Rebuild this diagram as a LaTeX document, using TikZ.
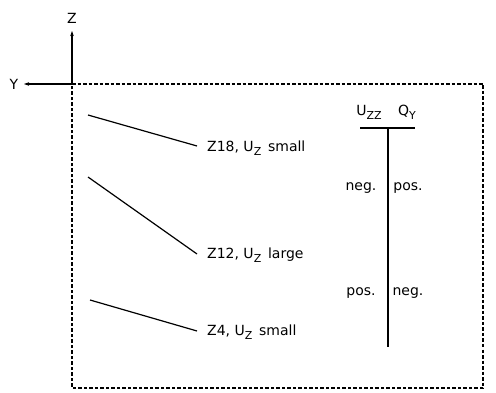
\documentclass[tikz,border=0pt]{standalone}
\usepackage{fontspec}
\setmainfont{DejaVu Sans}
\usetikzlibrary{arrows.meta}
\newcommand\mysub[1]{\raisebox{-0.5ex}{\fontsize{11}{11}\selectfont #1}}
\begin{document}
\begin{tikzpicture}[x=1pt,y=-1pt,
  lab/.style={font=\fontsize{14}{16}\selectfont, inner sep=0pt},
  thin line/.style={line width=1.2pt},
  boxline/.style={line width=1.1pt, dash pattern=on 3.5pt off 2pt}]
\useasboundingbox (0,0) rectangle (496,393);
\coordinate (O) at (72,84);
\coordinate (zt) at (72,31);
\coordinate (yt) at (24,84);
\draw[boxline] (O) -- (483,84) -- (483,388) -- (72,388) -- cycle;
\draw[thin line,-{Stealth[length=5pt,width=3.5pt]}] (O) -- (zt);
\draw[thin line,-{Stealth[length=5pt,width=3.5pt]}] (O) -- (yt);
\node[lab] (zl) at (72,18) {Z};
\node[lab] (yl) at (14,84) {Y};
% lines
\coordinate (a1) at (88,115); \coordinate (a2) at (197,146);
\coordinate (b1) at (88,177); \coordinate (b2) at (197,254);
\coordinate (c1) at (90,300); \coordinate (c2) at (197,331);
\draw[thin line] (a1) -- (a2);
\draw[thin line] (b1) -- (b2);
\draw[thin line] (c1) -- (c2);
\node[lab,anchor=west] (la) at (207,148) {Z18, U\mysub{Z}\ \,small};
\node[lab,anchor=west] (lb) at (207,255) {Z12, U\mysub{Z}\ \,large};
\node[lab,anchor=west] (lc) at (207,332) {Z4, U\mysub{Z}\ \,small};
% right diagram
\node[lab] (uzz) at (369,112) {U\mysub{ZZ}};
\node[lab] (qy) at (407,112) {Q\mysub{Y}};
\coordinate (h1) at (360,128); \coordinate (h2) at (415,128);
\coordinate (v1) at (388,128); \coordinate (v2) at (388,347);
\draw[thin line] (h1) -- (h2);
\draw[thin line] (v1) -- (v2);
\node[lab] (n1) at (361,188) {neg.};
\node[lab] (p1) at (408,188) {pos.};
\node[lab] (p2) at (361,293) {pos.};
\node[lab] (n2) at (408,293) {neg.};
\end{tikzpicture}
\end{document}
